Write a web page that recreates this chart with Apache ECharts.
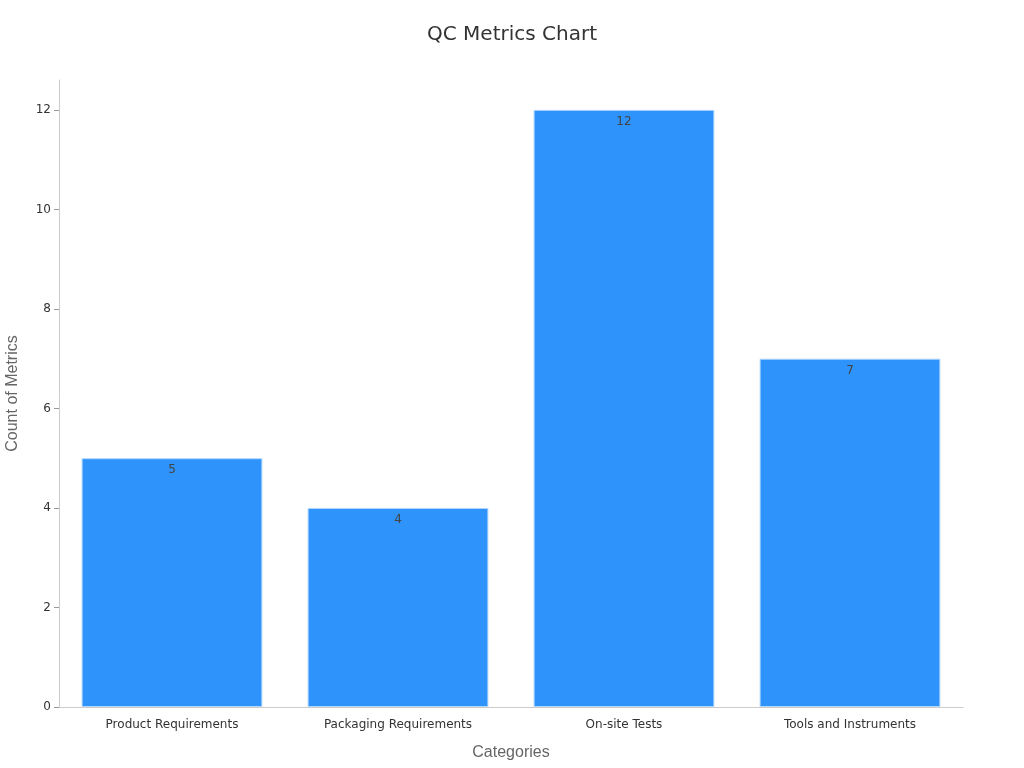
<!DOCTYPE html>
<html>
<head>
<meta charset="utf-8">
<script src="https://cdn.jsdelivr.net/npm/echarts@6.0.0/dist/echarts.min.js"></script>
<style>
  html, body { margin: 0; padding: 0; background: #fff; }
  #main { width: 1024px; height: 768px; }
</style>
</head>
<body>
<div id="main"></div>
<script>
var chartDom = document.getElementById('main');
var myChart = echarts.init(chartDom);

const categories = ['Product Requirements', 'Packaging Requirements', 'On-site Tests', 'Tools and Instruments'];
const counts = [5, 4, 12, 7];

var option = {
  animation: false,
  title: {
    text: 'QC Metrics Chart',
    left: 'center',
    top: 20,
    textStyle: {
      fontFamily: 'DejaVu Sans',
      fontSize: 20,
      fontWeight: 'normal',
      color: '#333'
    }
  },
  grid: {
    left: 59,
    right: 61,
    top: 80,
    bottom: 61,
    containLabel: false,
    outerBoundsMode: 'none'
  },
  xAxis: {
    type: 'category',
    data: categories,
    name: 'Categories',
    nameLocation: 'middle',
    nameGap: 38,
    nameTextStyle: { fontFamily: 'Liberation Sans', fontSize: 16, color: '#666' },
    axisLine: { lineStyle: { color: '#ccc' } },
    axisTick: { alignWithLabel: true, lineStyle: { color: '#999' } },
    axisLabel: { fontFamily: 'DejaVu Sans', fontSize: 12, color: '#333', margin: 12 }
  },
  yAxis: {
    type: 'value',
    min: 0,
    max: 12.6,
    interval: 2,
    name: 'Count of Metrics',
    nameLocation: 'middle',
    nameGap: 38,
    nameTextStyle: { fontFamily: 'Liberation Sans', fontSize: 16, color: '#666' },
    splitLine: { show: false },
    axisLine: { show: true, lineStyle: { color: '#ccc' } },
    axisTick: { show: true, lineStyle: { color: '#999' } },
    axisLabel: {
      fontFamily: 'DejaVu Sans',
      fontSize: 12,
      color: '#333',
      showMaxLabel: false
    }
  },
  series: [{
    type: 'bar',
    data: counts,
    barWidth: '80%',
    itemStyle: {
      color: '#2e93fa',
      borderColor: '#b3d7fd',
      borderWidth: 1
    },
    label: {
      show: true,
      position: 'insideTop',
      distance: 6,
      fontFamily: 'DejaVu Sans',
      fontSize: 12,
      color: '#444'
    }
  }]
};

myChart.setOption(option);
</script>
</body>
</html>
